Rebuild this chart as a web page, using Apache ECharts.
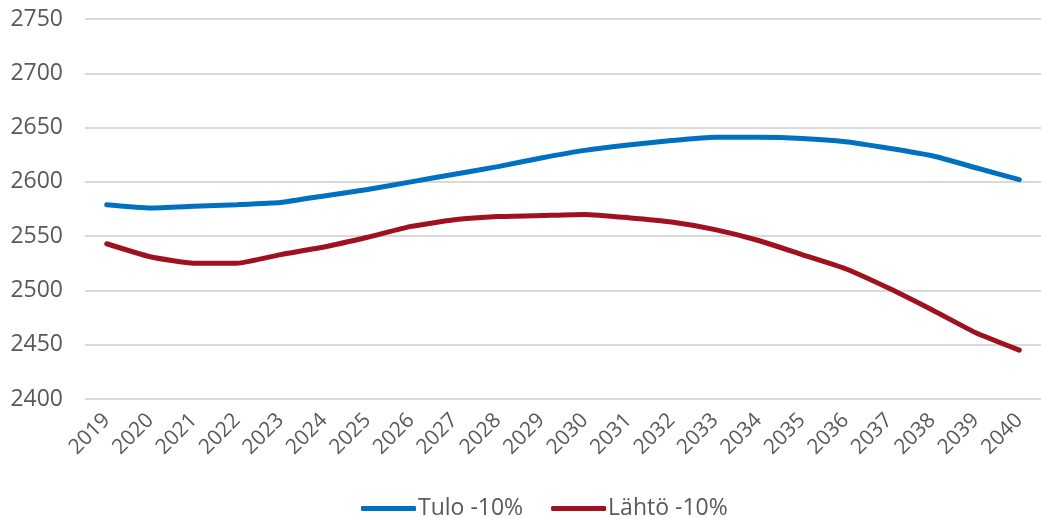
<!DOCTYPE html>
<html><head><meta charset="utf-8">
<script src="https://cdn.jsdelivr.net/npm/echarts@6/dist/echarts.min.js"></script>
<style>html,body{margin:0;padding:0;background:#fff}#c{width:1041px;height:518px}</style>
</head><body><div id="c"></div>
<script>
const years = ['2019','2020','2021','2022','2023','2024','2025','2026','2027','2028','2029','2030','2031','2032','2033','2034','2035','2036','2037','2038','2039','2040'];
const tulo = [2579,2576,2577.5,2579,2581,2587,2593,2600,2607,2614,2622,2629,2634,2638,2641,2641,2640,2637,2631,2624,2613,2602];
const lahto = [2543,2531,2525,2525,2533,2540,2549,2559,2565,2568,2569,2570,2567,2563,2556,2546,2533,2520,2502,2482,2461,2445];
const seriesNames = ['Tulo -10%','Lähtö -10%'];
const font = "'Open Sans', sans-serif";
const chart = echarts.init(document.getElementById('c'), null, {renderer:'canvas'});
chart.setOption({
  animation:false,
  textStyle:{fontFamily:font},
  grid:{left:85,top:19,width:964,height:380,containLabel:false},
  legend:{bottom:-7,left:356,itemWidth:55,itemHeight:5,itemGap:28,icon:'roundRect',
    textStyle:{fontSize:23,color:'#595959',fontFamily:font,padding:[0,0,0,-3]},data:seriesNames},
  xAxis:{type:'category',data:years,boundaryGap:true,
    axisLine:{show:false},axisTick:{show:false},
    axisLabel:{rotate:45,fontSize:21,color:'#595959',margin:18,interval:0,fontFamily:font}},
  yAxis:{type:'value',min:2400,max:2750,interval:50,
    axisLine:{show:false},axisTick:{show:false},
    splitLine:{lineStyle:{color:'#d9d9d9',width:2}},
    axisLabel:{fontSize:23,color:'#595959',margin:22,fontFamily:font,formatter:v=>String(v)}},
  series:[
    {name:seriesNames[0],type:'line',data:tulo,smooth:0.15,symbol:'none',lineStyle:{color:'#0070C0',width:5,cap:'round'},itemStyle:{color:'#0070C0'}},
    {name:seriesNames[1],type:'line',data:lahto,smooth:0.15,symbol:'none',lineStyle:{color:'#A0111F',width:5,cap:'round'},itemStyle:{color:'#A0111F'}}
  ]
});
</script></body></html>
